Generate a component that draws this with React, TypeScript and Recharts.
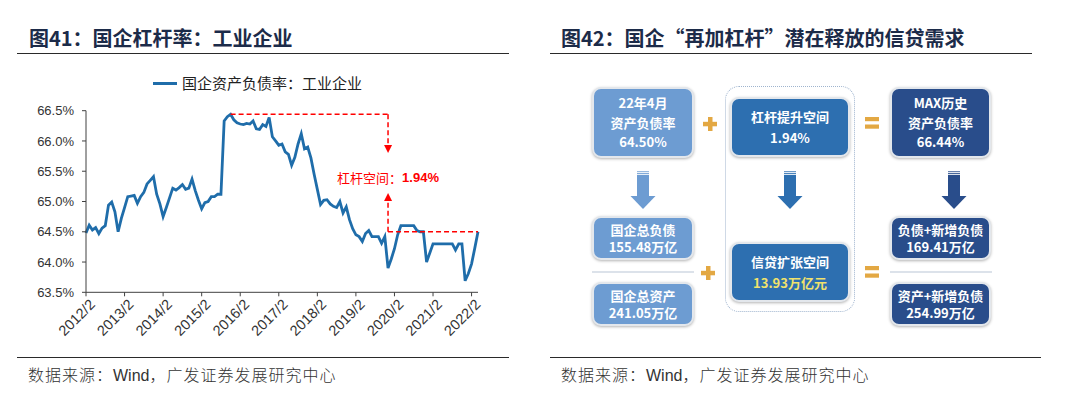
import React from 'react';
import { LineChart, Line, XAxis, YAxis, ReferenceLine, ReferenceDot } from 'recharts';

// ---------- data (left chart) ----------
const firstYear = 2012;
const pointCount = 123; // 2012/2 ... 2022/4, monthly
const categories: string[] = [];
for (let k = 0; k < pointCount; k++) {
  const m = 1 + k;
  categories.push(`${firstYear + Math.floor(m / 12)}/${(m % 12) + 1}`);
}

const leverage: number[] = [
  64.48, 64.61, 64.53, 64.57, 64.47, 64.56, 64.60, 64.94, 64.99, 64.83, 64.50, 64.72,
  64.90, 65.08, 65.09, 65.10, 64.97, 65.08, 65.15, 65.29, 65.35, 65.41, 65.12, 64.96,
  64.75, 64.90, 65.06, 65.22, 65.19, 65.23, 65.28, 65.20, 65.22, 65.37, 65.18, 65.02,
  64.88, 64.98, 65.00, 65.08, 65.08, 65.12, 65.12, 66.33, 66.40, 66.44, 66.35, 66.30,
  66.28, 66.27, 66.29, 66.28, 66.33, 66.20, 66.19, 66.27, 66.24, 66.39, 66.07, 66.00,
  65.93, 65.95, 65.82, 65.78, 65.60, 65.73, 65.95, 66.12, 65.87, 65.90, 65.72, 65.45,
  65.20, 64.95, 65.02, 65.03, 64.96, 64.92, 64.90, 65.00, 64.81, 64.91, 64.70, 64.55,
  64.45, 64.42, 64.34, 64.47, 64.52, 64.42, 64.42, 64.42, 64.31, 64.42, 63.90, 64.05,
  64.22, 64.45, 64.60, 64.60, 64.60, 64.60, 64.60, 64.52, 64.50, 64.50, 64.00, 64.15,
  64.30, 64.30, 64.30, 64.30, 64.30, 64.30, 64.30, 64.20, 64.30, 64.30, 63.69, 63.81,
  63.97, 64.23, 64.50,
];

const yTicks = [63.5, 64, 64.5, 65, 65.5, 66, 66.5];
const legendLabel = '国企资产负债率：工业企业';
const peakDate = '2015/11';
const gapDate = '2019/12';
const endDate = '2022/4';
const maxRatio = 66.44;
const currentRatio = 64.5;
const arrowDownTip = 65.8;
const arrowUpTip = 65.14;
const labelLevel = 65.4;
const annotationText = '杠杆空间：';
const annotationValue = '1.94%';

const data = categories.map((d, i) => ({ date: d, v: leverage[i] }));

// ---------- text (right diagram) ----------
const leftTitle = ['图41：', '国企杠杆率：工业企业'];
const rightTitle = ['图42：', '国企“再加杠杆”潜在释放的信贷需求'];
const sourcePrefix = '数据来源：';
const sourceWind = 'Wind';
const sourceSuffix = '，广发证券发展研究中心';

const boxTop1 = ['22年4月', '资产负债率', '64.50%'];
const boxTop2 = ['杠杆提升空间', '1.94%'];
const boxTop3 = ['MAX历史', '资产负债率', '66.44%'];
const boxDebt = ['国企总负债', '155.48万亿'];
const boxAsset = ['国企总资产', '241.05万亿'];
const boxCredit = ['信贷扩张空间', '13.93万亿元'];
const boxNewDebt = ['负债+新增负债', '169.41万亿'];
const boxNewAsset = ['资产+新增负债', '254.99万亿'];

const LINE_COLOR = '#1F6DAA';
const LIGHT = '#6D9CD2';
const MID = '#2D6FB0';
const DARK = '#294D8B';
const GOLD = '#E3A843';
const CJK = '"Noto Sans CJK SC", "Liberation Sans", sans-serif';
const ARIAL = '"Liberation Sans", Arial, sans-serif';

const XTick = (props: any) => {
  const { x, y, payload } = props;
  return (
    <text
      x={x}
      y={y}
      dx={2}
      dy={12}
      transform={`rotate(-45 ${x} ${y})`}
      textAnchor="end"
      fontSize={14.5}
      fill="#333"
      fontFamily={ARIAL}
    >
      {payload.value}
    </text>
  );
};

const DownArrow = (p: any) => (
  <path d={`M${p.cx},${p.cy} L${p.cx - 4},${p.cy - 8} L${p.cx + 4},${p.cy - 8} Z`} fill="#FF0000" />
);
const UpArrow = (p: any) => (
  <path d={`M${p.cx},${p.cy} L${p.cx - 4},${p.cy + 8} L${p.cx + 4},${p.cy + 8} Z`} fill="#FF0000" />
);
const Annotation = (p: any) => (
  <text x={p.cx} y={p.cy} textAnchor="middle" dominantBaseline="central" fill="#FF0000" fontSize={13}>
    <tspan fontFamily={CJK}>{annotationText}</tspan>
    <tspan fontFamily={ARIAL} fontWeight="bold">{annotationValue}</tspan>
  </text>
);

const Box = ({ left, top, width, height, bg, lines, lh, highlight }: any) => (
  <div
    style={{
      position: 'absolute',
      left,
      top,
      width,
      height,
      boxSizing: 'border-box',
      background: bg,
      border: '2px solid #E3E7EC',
      borderRadius: 9,
      boxShadow: '0 1px 3px rgba(0,0,0,0.3)',
      display: 'flex',
      flexDirection: 'column',
      alignItems: 'center',
      justifyContent: 'center',
      color: '#fff',
      fontWeight: 700,
      fontSize: 13,
      lineHeight: `${lh}px`,
      fontFamily: CJK,
    }}
  >
    {lines.map((t: string, i: number) => (
      <div key={i} style={{ color: highlight && i === lines.length - 1 ? '#F1E26C' : '#fff', whiteSpace: 'nowrap' }}>
        {t}
      </div>
    ))}
  </div>
);

const BlockArrow = ({ cx, top, color }: any) => (
  <svg style={{ position: 'absolute', left: cx - 13, top }} width={26} height={38}>
    <rect x={7} y={0} width={12} height={1.2} fill={color} opacity={0.7} />
    <rect x={7} y={2} width={12} height={1.2} fill={color} opacity={0.85} />
    <rect x={7} y={4} width={12} height={21} fill={color} />
    <path d="M0.5,25 L25.5,25 L13,38 Z" fill={color} />
  </svg>
);

const Plus = ({ cx, cy }: any) => (
  <svg style={{ position: 'absolute', left: cx - 7, top: cy - 7 }} width={14} height={14}>
    <rect x={5} y={0} width={4.5} height={14} fill={GOLD} />
    <rect x={0} y={4.8} width={14} height={4.5} fill={GOLD} />
  </svg>
);

const Equals = ({ cx, cy }: any) => (
  <svg style={{ position: 'absolute', left: cx - 7, top: cy - 6 }} width={14} height={12}>
    <rect x={0} y={0} width={14} height={4.2} fill={GOLD} />
    <rect x={0} y={7.5} width={14} height={4.2} fill={GOLD} />
  </svg>
);

const Rule = ({ left, top, width }: any) => (
  <div style={{ position: 'absolute', left, top, width, height: 1.6, background: '#2a2a2a' }} />
);

const Title = ({ left, parts }: any) => (
  <div
    style={{
      position: 'absolute',
      left,
      top: 27,
      fontSize: 20,
      lineHeight: '22px',
      fontWeight: 700,
      color: '#1C2B49',
      fontFamily: CJK,
      whiteSpace: 'nowrap',
    }}
  >
    <span>{parts[0]}</span>
    <span>{parts[1]}</span>
  </div>
);

const Source = ({ left }: any) => (
  <div
    style={{
      position: 'absolute',
      left,
      top: 365,
      fontSize: 16,
      lineHeight: '18px',
      letterSpacing: 1,
      color: '#333',
      fontFamily: CJK,
      fontWeight: 300,
      whiteSpace: 'nowrap',
    }}
  >
    {sourcePrefix}
    <span style={{ fontFamily: ARIAL, fontWeight: 400, letterSpacing: 0 }}>{sourceWind}</span>
    {sourceSuffix}
  </div>
);

export default function App() {
  return (
    <div style={{ position: 'absolute', left: 0, top: 0, width: 1080, height: 398, background: '#fff', overflow: 'hidden' }}>
      {/* Left panel */}
      <Title left={29} parts={leftTitle} />
      <Rule left={17} top={52.5} width={492} />
      <div style={{ position: 'absolute', left: 153, top: 81.5, width: 24, height: 3, background: LINE_COLOR }} />
      <div
        style={{
          position: 'absolute',
          left: 182,
          top: 73,
          fontSize: 15,
          lineHeight: '20px',
          color: '#222',
          fontFamily: CJK,
          whiteSpace: 'nowrap',
        }}
      >
        {legendLabel}
      </div>
      <div style={{ position: 'absolute', left: 0, top: 0 }}>
        <LineChart width={540} height={398} data={data} margin={{ top: 110.7, right: 62, bottom: 55.7, left: 26 }}>
          <XAxis
            dataKey="date"
            interval={11}
            tickSize={4}
            tickMargin={2}
            height={50}
            tick={<XTick />}
            axisLine={{ stroke: '#404040', strokeWidth: 1 }}
            tickLine={{ stroke: '#404040' }}
          />
          <YAxis
            width={60}
            domain={[63.5, 66.5]}
            ticks={yTicks}
            interval={0}
            tickSize={4}
            tickMargin={8}
            tickFormatter={(v: number) => `${v.toFixed(1)}%`}
            tick={{ fontSize: 13, fill: '#333', fontFamily: ARIAL }}
            axisLine={{ stroke: '#404040', strokeWidth: 1 }}
            tickLine={{ stroke: '#404040' }}
          />
          <Line
            type="linear"
            dataKey="v"
            stroke={LINE_COLOR}
            strokeWidth={2.8}
            dot={false}
            isAnimationActive={false}
          />
          <ReferenceLine
            segment={[{ x: peakDate, y: maxRatio }, { x: gapDate, y: maxRatio }]}
            stroke="#FF0000"
            strokeWidth={1.5}
            strokeDasharray="5 3"
          />
          <ReferenceLine
            segment={[{ x: gapDate, y: maxRatio }, { x: gapDate, y: arrowDownTip + 0.1 }]}
            stroke="#FF0000"
            strokeWidth={1.5}
            strokeDasharray="5 3"
          />
          <ReferenceLine
            segment={[{ x: gapDate, y: currentRatio }, { x: endDate, y: currentRatio }]}
            stroke="#FF0000"
            strokeWidth={1.5}
            strokeDasharray="5 3"
          />
          <ReferenceLine
            segment={[{ x: gapDate, y: currentRatio }, { x: gapDate, y: arrowUpTip - 0.1 }]}
            stroke="#FF0000"
            strokeWidth={1.5}
            strokeDasharray="5 3"
          />
          <ReferenceDot x={gapDate} y={arrowDownTip} r={0} shape={DownArrow} />
          <ReferenceDot x={gapDate} y={arrowUpTip} r={0} shape={UpArrow} />
          <ReferenceDot x={gapDate} y={labelLevel} r={0} shape={Annotation} />
        </LineChart>
      </div>
      <Rule left={17} top={356.5} width={492} />
      <Source left={28} />

      {/* Right panel */}
      <Title left={561} parts={rightTitle} />
      <Rule left={550} top={52.5} width={482} />

      <div
        style={{
          position: 'absolute',
          left: 725,
          top: 86,
          width: 130,
          height: 226,
          boxSizing: 'border-box',
          border: '1.2px dotted #9FB4CE',
          borderRadius: 14,
        }}
      />
      <Box left={592} top={87} width={102} height={71} bg={LIGHT} lines={boxTop1} lh={19.5} />
      <Box left={730} top={97} width={120} height={60} bg={MID} lines={boxTop2} lh={21} />
      <Box left={890} top={87} width={101} height={71} bg={DARK} lines={boxTop3} lh={19.5} />

      <Plus cx={710} cy={124} />
      <Equals cx={872} cy={123} />

      <BlockArrow cx={643} top={171} color={LIGHT} />
      <BlockArrow cx={790} top={171} color={MID} />
      <BlockArrow cx={954} top={171} color={DARK} />

      <Box left={592} top={216} width={102} height={44} bg={LIGHT} lines={boxDebt} lh={17.5} />
      <div style={{ position: 'absolute', left: 592, top: 271, width: 102, height: 2, background: '#DCE2EA' }} />
      <Box left={592} top={282} width={102} height={44} bg={LIGHT} lines={boxAsset} lh={17.5} />

      <Box left={730} top={242} width={120} height={60} bg={MID} lines={boxCredit} lh={21} highlight />

      <Box left={890} top={216} width={101} height={44} bg={DARK} lines={boxNewDebt} lh={17.5} />
      <div style={{ position: 'absolute', left: 890, top: 271, width: 102, height: 2, background: '#DCE2EA' }} />
      <Box left={890} top={282} width={101} height={44} bg={DARK} lines={boxNewAsset} lh={17.5} />

      <Plus cx={708} cy={273} />
      <Equals cx={872} cy={272} />

      <Rule left={550} top={356.5} width={491} />
      <Source left={561} />
    </div>
  );
}
